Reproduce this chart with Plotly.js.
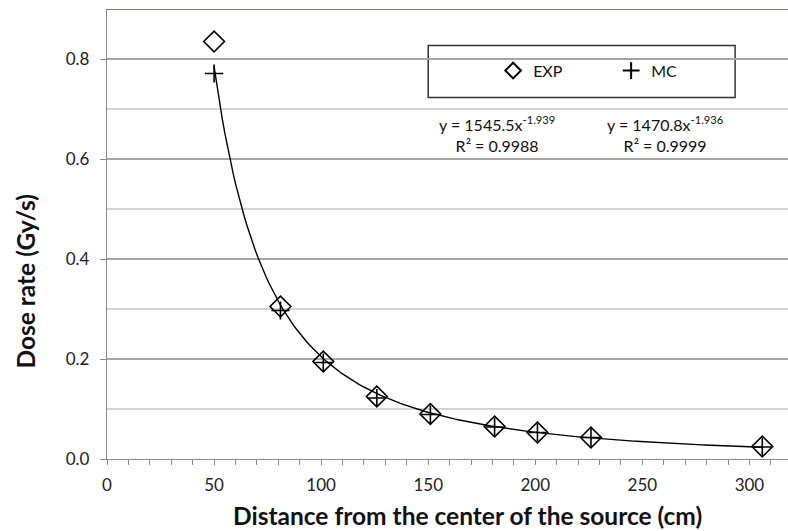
<!DOCTYPE html>
<html>
<head>
<meta charset="utf-8">
<script src="https://cdn.plot.ly/plotly-3.0.1.min.js"></script>
<style>html,body{margin:0;padding:0;background:#fff;}#chart{width:788px;height:531px;}</style>
</head>
<body>
<div id="chart"></div>
<script>
// Data
const distance = [50, 81, 101, 126, 151, 181, 201, 226, 306];
const expDose  = [0.835, 0.305, 0.195, 0.125, 0.090, 0.065, 0.053, 0.043, 0.025];
const mcDose   = [0.771, 0.297, 0.193, 0.122, 0.089, 0.064, 0.053, 0.043, 0.024];
// Power-law trendlines as printed on the chart: y = a * x^b (only the EXP line is drawn)
const expFit = {a: 1545.5, b: -1.939, r2: '0.9988'};
const mcFit  = {a: 1470.8, b: -1.936, r2: '0.9999'};
const xTicks = [0, 50, 100, 150, 200, 250, 300];
const yTicks = [0.0, 0.2, 0.4, 0.6, 0.8];
const xTitle = 'Distance from the center of the source (cm)';
const yTitle = 'Dose rate (Gy/s)';

function trend(fit) {
  const xs = [], ys = [];
  const x0 = distance[0], x1 = distance[distance.length - 1];
  for (let i = 0; i <= 200; i++) {
    const x = x0 + (x1 - x0) * i / 200;
    xs.push(x); ys.push(fit.a * Math.pow(x, fit.b));
  }
  return {xs, ys};
}
const tExp = trend(expFit);
const FONT = 'Lato, "Open Sans", sans-serif';

const traces = [
  {x: tExp.xs, y: tExp.ys, mode: 'lines', line: {color: '#000', width: 1.4}, showlegend: false, hoverinfo: 'skip'},
  {x: distance, y: expDose, mode: 'markers', name: 'EXP',
   marker: {symbol: 'diamond-open', size: 16, color: '#000', line: {width: 1.6, color: '#000'}}},
  {x: distance, y: mcDose, mode: 'markers', name: 'MC',
   marker: {symbol: 'cross-thin-open', size: 13, color: '#000', line: {width: 1.6, color: '#000'}}}
];

const layout = {
  width: 788, height: 531,
  margin: {l: 107, r: 0, t: 9, b: 72},
  paper_bgcolor: '#fff', plot_bgcolor: '#fff',
  font: {family: FONT, size: 17, color: '#222'},
  showlegend: true,
  legend: {orientation: 'h', x: 0.567, y: 0.863, xanchor: 'left', yanchor: 'middle',
           bgcolor: 'rgba(0,0,0,0)', borderwidth: 0, font: {family: FONT, size: 16, color: '#111'},
           entrywidth: 73, itemwidth: 30, itemsizing: 'constant'},
  xaxis: {
    range: [0, 318], tickvals: xTicks, ticks: 'outside', ticklen: 5, tickcolor: '#888', tickwidth: 1,
    showline: true, linecolor: '#888', linewidth: 1.2, showgrid: false, zeroline: false,
    ticklabelstandoff: 5,
    minor: {dtick: 10, tick0: 0, ticks: 'outside', ticklen: 5, tickcolor: '#888', showgrid: false},
    tickfont: {family: FONT, size: 17, color: '#222'}
  },
  yaxis: {
    range: [0, 0.9], tickvals: yTicks, tickformat: '.1f', ticks: 'outside', ticklen: 6, tickcolor: '#888',
    showline: true, linecolor: '#888', linewidth: 1.2, zeroline: false,
    ticklabelstandoff: 7,
    showgrid: true, gridcolor: '#a6a6a6', gridwidth: 1.2,
    minor: {dtick: 0.1, tick0: 0, ticks: '', showgrid: true, gridcolor: '#d4d4d4', gridwidth: 1.2},
    tickfont: {family: FONT, size: 17, color: '#222'}
  },
  shapes: [
    {type: 'line', xref: 'paper', yref: 'y', x0: 0, x1: 1, y0: 0.9, y1: 0.9,
     line: {color: '#4f4f35', width: 1.5}, layer: 'above'},
    {type: 'rect', xref: 'x', yref: 'y', x0: 150, x1: 293.3, y0: 0.723, y1: 0.827,
     fillcolor: '#fff', line: {color: '#333', width: 1.5}, layer: 'below'}
  ],
  annotations: [
    {xref: 'x', yref: 'y', x: 182, y: 0.651, showarrow: false, align: 'center',
     text: 'y = 1545.5x<sup>-1.939</sup><br>R² = ' + expFit.r2, font: {family: FONT, size: 16, color: '#111'}},
    {xref: 'x', yref: 'y', x: 260.5, y: 0.651, showarrow: false, align: 'center',
     text: 'y = 1470.8x<sup>-1.936</sup><br>R² = ' + mcFit.r2, font: {family: FONT, size: 16, color: '#111'}},
    {xref: 'paper', yref: 'paper', x: (467 - 107) / 681, y: -(516 - 459.5) / 450, xanchor: 'center', yanchor: 'middle',
     showarrow: false, text: xTitle, font: {family: FONT, size: 24.5, color: '#111', weight: 'bold'}},
    {xref: 'paper', yref: 'paper', x: -(107 - 25) / 681, y: (459.5 - 282) / 450, xanchor: 'center', yanchor: 'middle',
     showarrow: false, textangle: -90, text: yTitle, font: {family: FONT, size: 24.5, color: '#111', weight: 'bold'}}
  ]
};

Plotly.newPlot('chart', traces, layout, {displayModeBar: false, staticPlot: true});
</script>
</body>
</html>
